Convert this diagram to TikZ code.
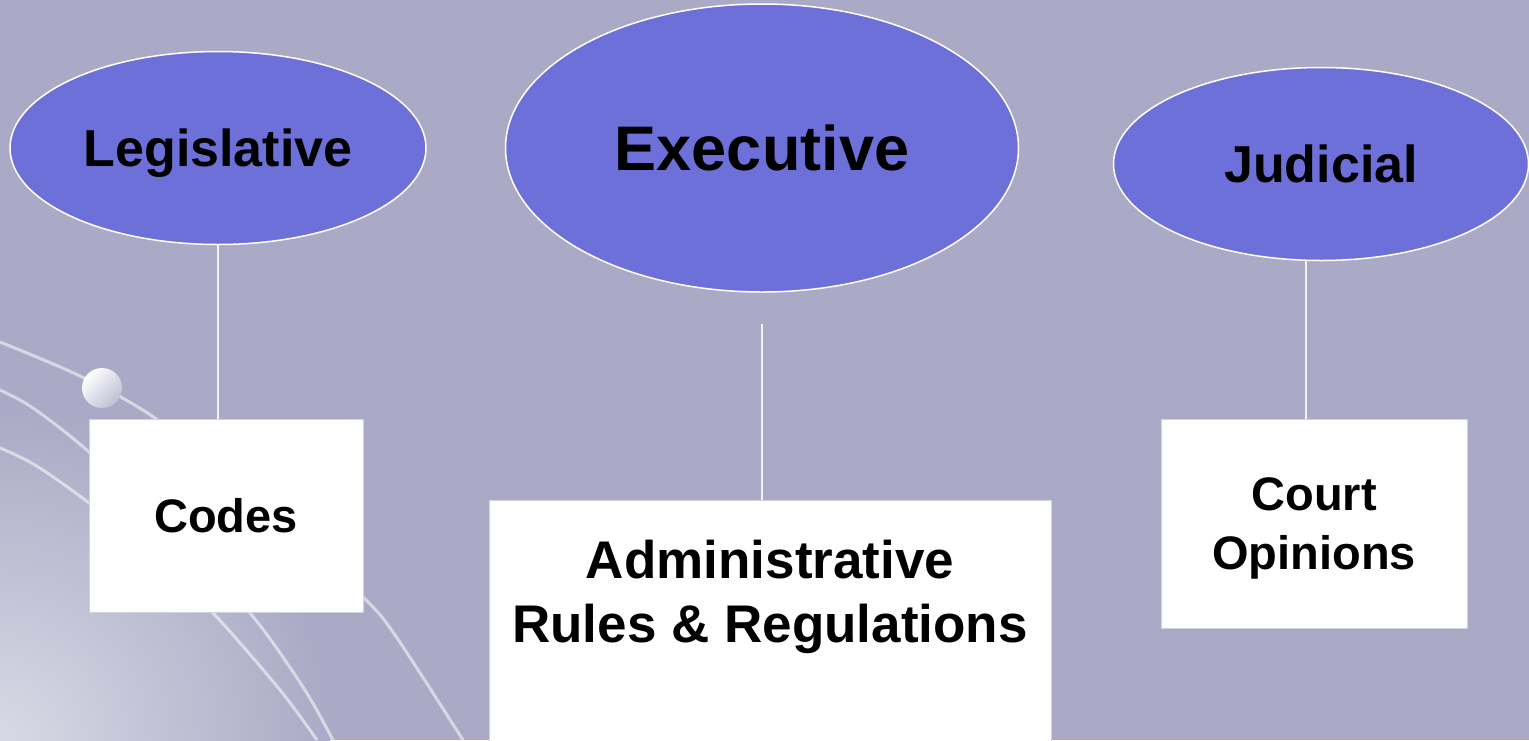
\documentclass[tikz,border=0pt]{standalone}
\usepackage{fontspec}
\setmainfont{Liberation Sans}
\usetikzlibrary{shapes.geometric,positioning}
\definecolor{slidebg}{HTML}{AAAAC6}
\definecolor{branchfill}{HTML}{6E70DA}
\definecolor{boxline}{HTML}{D2D2DC}
\tikzset{branch/.style={ellipse,draw=white,line width=1.5pt,fill=branchfill,inner sep=0pt},
	 source/.style={rectangle,draw=boxline,line width=1pt,fill=white,inner sep=0pt,align=center},
	 link/.style={draw=white!85!slidebg,line width=2pt},
	 swoosh/.style={white,opacity=.55,line width=3pt}
	 }

\begin{document}
\begin{tikzpicture}[x=1pt,y=-1pt] % three branches and what they produce
	\useasboundingbox (0,0) rectangle (1529,740);
	\clip (0,0) rectangle (1529,740);
	\fill[slidebg] (0,0) rectangle (1529,740);
	\shade[inner color=white!55!slidebg,outer color=slidebg] (0,740) circle (330);
	\draw[swoosh] plot[smooth] coordinates {(0,342) (80,376) (155,418) (260,500) (363,597) (395,635) (463,740)};
	\draw[swoosh] plot[smooth] coordinates {(0,390) (33,408) (89,452) (170,530) (250,613) (303,687) (333,740)};
	\draw[swoosh] plot[smooth] coordinates {(0,448) (35,465) (89,503) (150,555) (213,613) (280,690) (317,740)};
	\shade[top color=white,bottom color=slidebg!75!white,shading angle=45] (102,388) circle (20);
	\node[branch,minimum width=416,minimum height=193,text depth=0pt,font=\bfseries\fontsize{52}{62}\selectfont] (leg) at (218,148) {Legislative};
	\node[branch,minimum width=513,minimum height=288,font=\bfseries\fontsize{63}{75}\selectfont] (exec) at (762,148) {Executive};
	\node[branch,minimum width=415,minimum height=193,font=\bfseries\fontsize{52}{62}\selectfont] (jud) at (1321,164) {Judicial};
	\node[source,minimum width=274,minimum height=193,font=\bfseries\fontsize{47}{56}\selectfont] (codes) at (226,516) {Codes};
	\node[source,anchor=north,minimum width=562,text height=142,text depth=200,font=\bfseries\fontsize{53}{64}\selectfont] (admin) at (770,500) {Administrative\\Rules \& Regulations};
	\node[source,minimum width=306,minimum height=209,text depth=0pt,font=\bfseries\fontsize{47}{59}\selectfont] (court) at (1314,524) {Court\\Opinions};
	\draw[link] (leg.south) -- (leg.south |- codes.north);
	\draw[link,shorten <=31pt] (exec.south) -- (exec.south |- admin.north);
	\draw[link] ([xshift=-8pt]court.north) -- ([xshift=-8pt]court.north |- jud.south);
\end{tikzpicture}
\end{document}
